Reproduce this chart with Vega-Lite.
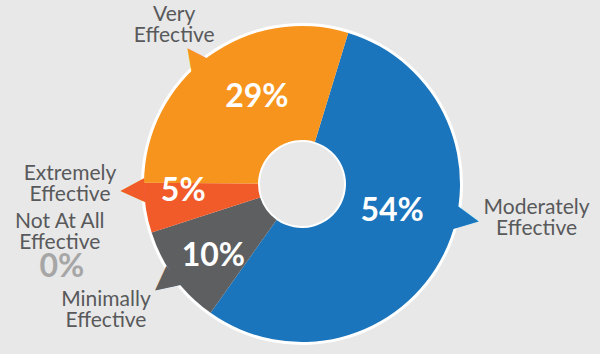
{
  "$schema": "https://vega.github.io/schema/vega-lite/v6.json",
  "width": 596,
  "height": 340,
  "autosize": {"type": "none"},
  "padding": {"left": 4, "top": 14, "right": 0, "bottom": 0},
  "background": "#e8e8e8",
  "config": {"view": {"stroke": null}, "font": "Lato"},
  "data": {
    "values": [
      {"category": "Moderately Effective", "value": 0.54, "label": "Moderately\nEffective"},
      {"category": "Minimally Effective", "value": 0.10, "label": "Minimally\nEffective"},
      {"category": "Not At All Effective", "value": 0.0, "label": "Not At All\nEffective"},
      {"category": "Extremely Effective", "value": 0.05, "label": "Extremely\nEffective"},
      {"category": "Very Effective", "value": 0.29, "label": "Very\nEffective"}
    ]
  },
  "transform": [{"window": [{"op": "row_number", "as": "rank"}]}],
  "encoding": {
    "theta": {"field": "value", "type": "quantitative", "stack": true, "scale": {"range": [0.2967, 6.5799]}},
    "order": {"field": "rank", "type": "quantitative"},
    "color": {
      "field": "category", "type": "nominal", "legend": null,
      "scale": {"domain": ["Moderately Effective", "Minimally Effective", "Not At All Effective", "Extremely Effective", "Very Effective"], "range": ["#1b75bc", "#5e5f61", "#a7a9ac", "#f15a29", "#f7941d"]}
    }
  },
  "resolve": {"scale": {"color": "independent"}},
  "layer": [
    {
      "mark": {"type": "arc", "outerRadius": 161, "innerRadius": 42},
      "encoding": {
        "color": {"field": "category", "type": "nominal", "legend": null, "scale": {"range": ["#ffffff"]}}
      }
    },
    {
      "mark": {"type": "text", "font": "DejaVu Sans", "fontSize": 32, "radius": 167, "thetaOffset": -0.071, "angle": 324, "align": "center", "baseline": "middle"},
      "encoding": {"text": {"condition": {"test": "datum.category === 'Very Effective'", "value": "▲"}, "value": ""}}
    },
    {
      "mark": {"type": "text", "font": "DejaVu Sans", "fontSize": 32, "radius": 170, "thetaOffset": -0.246, "angle": 100, "align": "center", "baseline": "middle"},
      "encoding": {"text": {"condition": {"test": "datum.category === 'Moderately Effective'", "value": "▲"}, "value": ""}}
    },
    {
      "mark": {"type": "text", "font": "DejaVu Sans", "fontSize": 32, "radius": 171, "thetaOffset": 0.113, "angle": 268, "align": "center", "baseline": "middle"},
      "encoding": {"text": {"condition": {"test": "datum.category === 'Extremely Effective'", "value": "▲"}, "value": ""}}
    },
    {
      "mark": {"type": "text", "font": "DejaVu Sans", "fontSize": 32, "radius": 171, "thetaOffset": 0.009, "angle": 231, "align": "center", "baseline": "middle"},
      "encoding": {"text": {"condition": {"test": "datum.category === 'Minimally Effective'", "value": "▲"}, "value": ""}}
    },
    {
      "mark": {"type": "arc", "outerRadius": 158, "innerRadius": 44}
    },
    {
      "mark": {"type": "text", "fontSize": 32, "fontWeight": "bold", "radius": 98, "thetaOffset": 0.155, "align": "center", "baseline": "middle"},
      "encoding": {
        "text": {"condition": {"test": "datum.category === 'Very Effective'", "field": "value", "type": "quantitative", "format": ".0%"}, "value": ""},
        "color": {"field": "category", "type": "nominal", "legend": null, "scale": {"range": ["#ffffff"]}}
      }
    },
    {
      "mark": {"type": "text", "fontSize": 32, "fontWeight": "bold", "radius": 94, "thetaOffset": -0.166, "align": "center", "baseline": "middle"},
      "encoding": {
        "text": {"condition": {"test": "datum.category === 'Moderately Effective'", "field": "value", "type": "quantitative", "format": ".0%"}, "value": ""},
        "color": {"field": "category", "type": "nominal", "legend": null, "scale": {"range": ["#ffffff"]}}
      }
    },
    {
      "mark": {"type": "text", "fontSize": 32, "fontWeight": "bold", "radius": 119, "thetaOffset": 0.093, "align": "center", "baseline": "middle"},
      "encoding": {
        "text": {"condition": {"test": "datum.category === 'Extremely Effective'", "field": "value", "type": "quantitative", "format": ".0%"}, "value": ""},
        "color": {"field": "category", "type": "nominal", "legend": null, "scale": {"range": ["#ffffff"]}}
      }
    },
    {
      "mark": {"type": "text", "fontSize": 32, "fontWeight": "bold", "radius": 114, "thetaOffset": -0.048, "align": "center", "baseline": "middle"},
      "encoding": {
        "text": {"condition": {"test": "datum.category === 'Minimally Effective'", "field": "value", "type": "quantitative", "format": ".0%"}, "value": ""},
        "color": {"field": "category", "type": "nominal", "legend": null, "scale": {"range": ["#ffffff"]}}
      }
    },
    {
      "mark": {"type": "text", "fontSize": 32, "fontWeight": "bold", "radius": 254, "thetaOffset": -0.019, "align": "center", "baseline": "middle"},
      "encoding": {
        "text": {"condition": {"test": "datum.category === 'Not At All Effective'", "field": "value", "type": "quantitative", "format": ".0%"}, "value": ""},
        "color": {"field": "category", "type": "nominal", "legend": null, "scale": {"range": ["#a6a6a6"]}}
      }
    },
    {
      "mark": {"type": "text", "fontSize": 21, "lineHeight": 21, "lineBreak": "\n", "radius": 204, "thetaOffset": -0.044, "dy": -10, "align": "center", "baseline": "middle"},
      "encoding": {
        "text": {"condition": {"test": "datum.category === 'Very Effective'", "field": "label", "type": "nominal"}, "value": ""},
        "color": {"field": "category", "type": "nominal", "legend": null, "scale": {"range": ["#58595b"]}}
      }
    },
    {
      "mark": {"type": "text", "fontSize": 21, "lineHeight": 21, "lineBreak": "\n", "radius": 237, "thetaOffset": -0.314, "dy": -10, "align": "center", "baseline": "middle"},
      "encoding": {
        "text": {"condition": {"test": "datum.category === 'Moderately Effective'", "field": "label", "type": "nominal"}, "value": ""},
        "color": {"field": "category", "type": "nominal", "legend": null, "scale": {"range": ["#58595b"]}}
      }
    },
    {
      "mark": {"type": "text", "fontSize": 21, "lineHeight": 21, "lineBreak": "\n", "radius": 232, "thetaOffset": 0.154, "dy": -10, "align": "center", "baseline": "middle"},
      "encoding": {
        "text": {"condition": {"test": "datum.category === 'Extremely Effective'", "field": "label", "type": "nominal"}, "value": ""},
        "color": {"field": "category", "type": "nominal", "legend": null, "scale": {"range": ["#58595b"]}}
      }
    },
    {
      "mark": {"type": "text", "fontSize": 21, "lineHeight": 21, "lineBreak": "\n", "radius": 233, "thetaOffset": 0.062, "dy": -10, "align": "center", "baseline": "middle"},
      "encoding": {
        "text": {"condition": {"test": "datum.category === 'Minimally Effective'", "field": "label", "type": "nominal"}, "value": ""},
        "color": {"field": "category", "type": "nominal", "legend": null, "scale": {"range": ["#58595b"]}}
      }
    },
    {
      "mark": {"type": "text", "fontSize": 21, "lineHeight": 21, "lineBreak": "\n", "radius": 247, "thetaOffset": 0.115, "dy": -10, "align": "center", "baseline": "middle"},
      "encoding": {
        "text": {"condition": {"test": "datum.category === 'Not At All Effective'", "field": "label", "type": "nominal"}, "value": ""},
        "color": {"field": "category", "type": "nominal", "legend": null, "scale": {"range": ["#58595b"]}}
      }
    }
  ]
}
